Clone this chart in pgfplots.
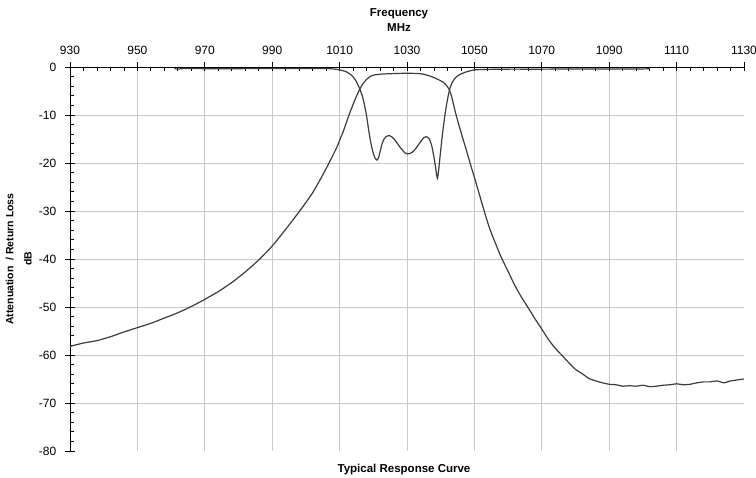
\documentclass[border=0pt]{standalone}
\usepackage{fontspec}
\setmainfont{Liberation Sans}
\usepackage{pgfplots}
\pgfplotsset{compat=1.18}
\definecolor{gridgray}{HTML}{C8C8C8}
\definecolor{curve}{HTML}{3C3C3C}

% insertion loss (S21)
\pgfplotstableread{
f     db
930   -58.2
934   -57.5
938   -57.0
942   -56.2
946   -55.2
950   -54.3
954   -53.4
958   -52.3
962   -51.2
966   -49.9
970   -48.4
974   -46.8
978   -44.9
982   -42.7
986   -40.2
990   -37.3
993   -34.7
996   -32.0
999   -29.2
1002  -26.2
1005  -22.5
1007  -19.8
1009  -17.0
1010  -15.3
1011  -13.6
1012  -11.6
1013  -9.6
1014  -7.8
1015  -6.1
1016  -4.6
1017  -3.4
1018  -2.6
1019  -2.0
1020  -1.7
1022  -1.5
1025  -1.4
1030  -1.3
1034  -1.4
1036  -1.7
1038  -2.2
1039.5 -2.7
1040.8 -3.2
1041.8 -3.9
1042.6 -4.8
1043.4 -6.6
1044.2 -9.0
1045.2 -11.6
1046.4 -14.5
1047.6 -17.3
1048.7 -20.0
1050  -23.0
1051.5 -26.6
1052.9 -30.0
1054.5 -33.6
1056.4 -37.0
1058  -39.7
1060  -42.6
1062  -45.5
1064  -48.0
1066  -50.2
1068  -52.5
1070  -54.6
1072  -56.8
1074  -58.6
1076  -60.1
1078  -61.6
1080  -63.0
1082  -63.9
1084  -64.9
1086  -65.4
1088  -65.8
1090  -66.1
1092  -66.2
1094  -66.5
1096  -66.4
1098  -66.5
1100  -66.3
1102  -66.6
1104  -66.5
1106  -66.3
1108  -66.2
1110  -66.0
1112  -66.2
1114  -66.1
1116  -65.8
1118  -65.6
1120  -65.6
1122  -65.4
1124  -65.8
1126  -65.4
1128  -65.2
1130  -65.0
}\insertion

% return loss (S11)
\pgfplotstableread{
f      db
961    -0.3
962    -0.45
964    -0.3
970    -0.35
980    -0.35
990    -0.3
1000   -0.3
1005   -0.3
1008   -0.4
1010   -0.6
1012   -1.0
1013.5 -1.7
1014.5 -2.5
1015.3 -3.5
1016   -4.6
1016.8 -6.2
1017.5 -8.3
1018.1 -10.6
1018.6 -13.0
1019.1 -15.2
1019.6 -16.9
1020.1 -18.2
1020.6 -19.1
1021.1 -19.4
1021.6 -18.8
1022.1 -17.4
1022.6 -16.0
1023.2 -15.0
1024   -14.4
1024.8 -14.3
1025.6 -14.6
1026.5 -15.3
1027.5 -16.3
1028.5 -17.2
1029.4 -17.9
1030.2 -18.1
1031   -18.0
1032   -17.5
1033   -16.6
1034   -15.6
1035   -14.7
1035.8 -14.5
1036.6 -15.0
1037.3 -16.3
1037.9 -18.4
1038.5 -21.0
1039.0 -23.2
1039.4 -21.4
1039.8 -18.7
1040.3 -15.4
1040.8 -12.4
1041.3 -9.8
1041.8 -7.6
1042.6 -4.8
1043.5 -3.1
1044.7 -2.0
1046.2 -1.4
1047.7 -1.0
1050   -0.6
1054   -0.5
1060   -0.45
1070   -0.45
1080   -0.4
1090   -0.4
1100   -0.4
1102   -0.35
}\returnloss

\begin{document}
\begin{tikzpicture}
\begin{axis}[
    scale only axis,
    width=674pt, height=384pt,
    xmin=930, xmax=1130,
    ymin=-80, ymax=0,
    axis x line*=top,
    axis y line*=left,
    axis line style={black, line width=0.9pt, -},
    xtick={950,970,...,1110},
    extra x ticks={930,1130},
    ytick={-70,-60,...,-10},
    extra y ticks={-80,0},
    extra tick style={grid=none},
    minor xtick={934,938,...,1126},
    minor ytick={-78,-76,...,-2},
    grid=major,
    grid style={gridgray, line width=0.8pt},
    tick align=center,
    major tick length=9pt,
    minor tick length=4pt,
    tick style={black, line width=0.8pt},
    minor x tick style={yshift=-2pt},
    minor y tick style={xshift=2pt},
    /pgf/number format/assume math mode=true,
    /pgf/number format/1000 sep={},
    ticklabel style={font=\fontsize{12}{14}\selectfont},
    xticklabel style={anchor=base, inner sep=0pt, yshift=8pt},
    yticklabel style={anchor=east, inner sep=0pt, xshift=-9pt},
    xlabel={Frequency\\MHz},
    xlabel style={at={(axis description cs:0.5,1)}, anchor=south,
        inner sep=0pt, yshift=35pt, xshift=-8pt, align=center,
        font=\fontsize{11.5}{15}\selectfont\bfseries},
    ylabel={Attenuation\ \ / Return Loss\\dB},
    ylabel style={at={(axis description cs:0,0.5)}, anchor=south,
        inner sep=0pt, yshift=38pt, align=center,
        font=\fontsize{10.5}{18.4}\selectfont\bfseries},
    title={Typical Response Curve},
    title style={at={(axis description cs:0.5,0)}, anchor=base,
        inner sep=0pt, yshift=-27.5pt, xshift=-3pt,
        font=\fontsize{11.5}{14}\selectfont\bfseries},
    clip=false,
]
\coordinate (bl) at (rel axis cs:0,0);
\coordinate (tr) at (rel axis cs:1,1);
\addplot[curve, line width=1.2pt, smooth, tension=0.4] table[x=f, y=db] {\insertion};
\addplot[curve, line width=1.2pt, smooth, tension=0.4] table[x=f, y=db] {\returnloss};
\end{axis}
\pgfresetboundingbox
\path[use as bounding box] ([shift={(-70pt,-27pt)}]bl) rectangle ([shift={(12pt,67pt)}]tr);
\end{tikzpicture}
\end{document}
